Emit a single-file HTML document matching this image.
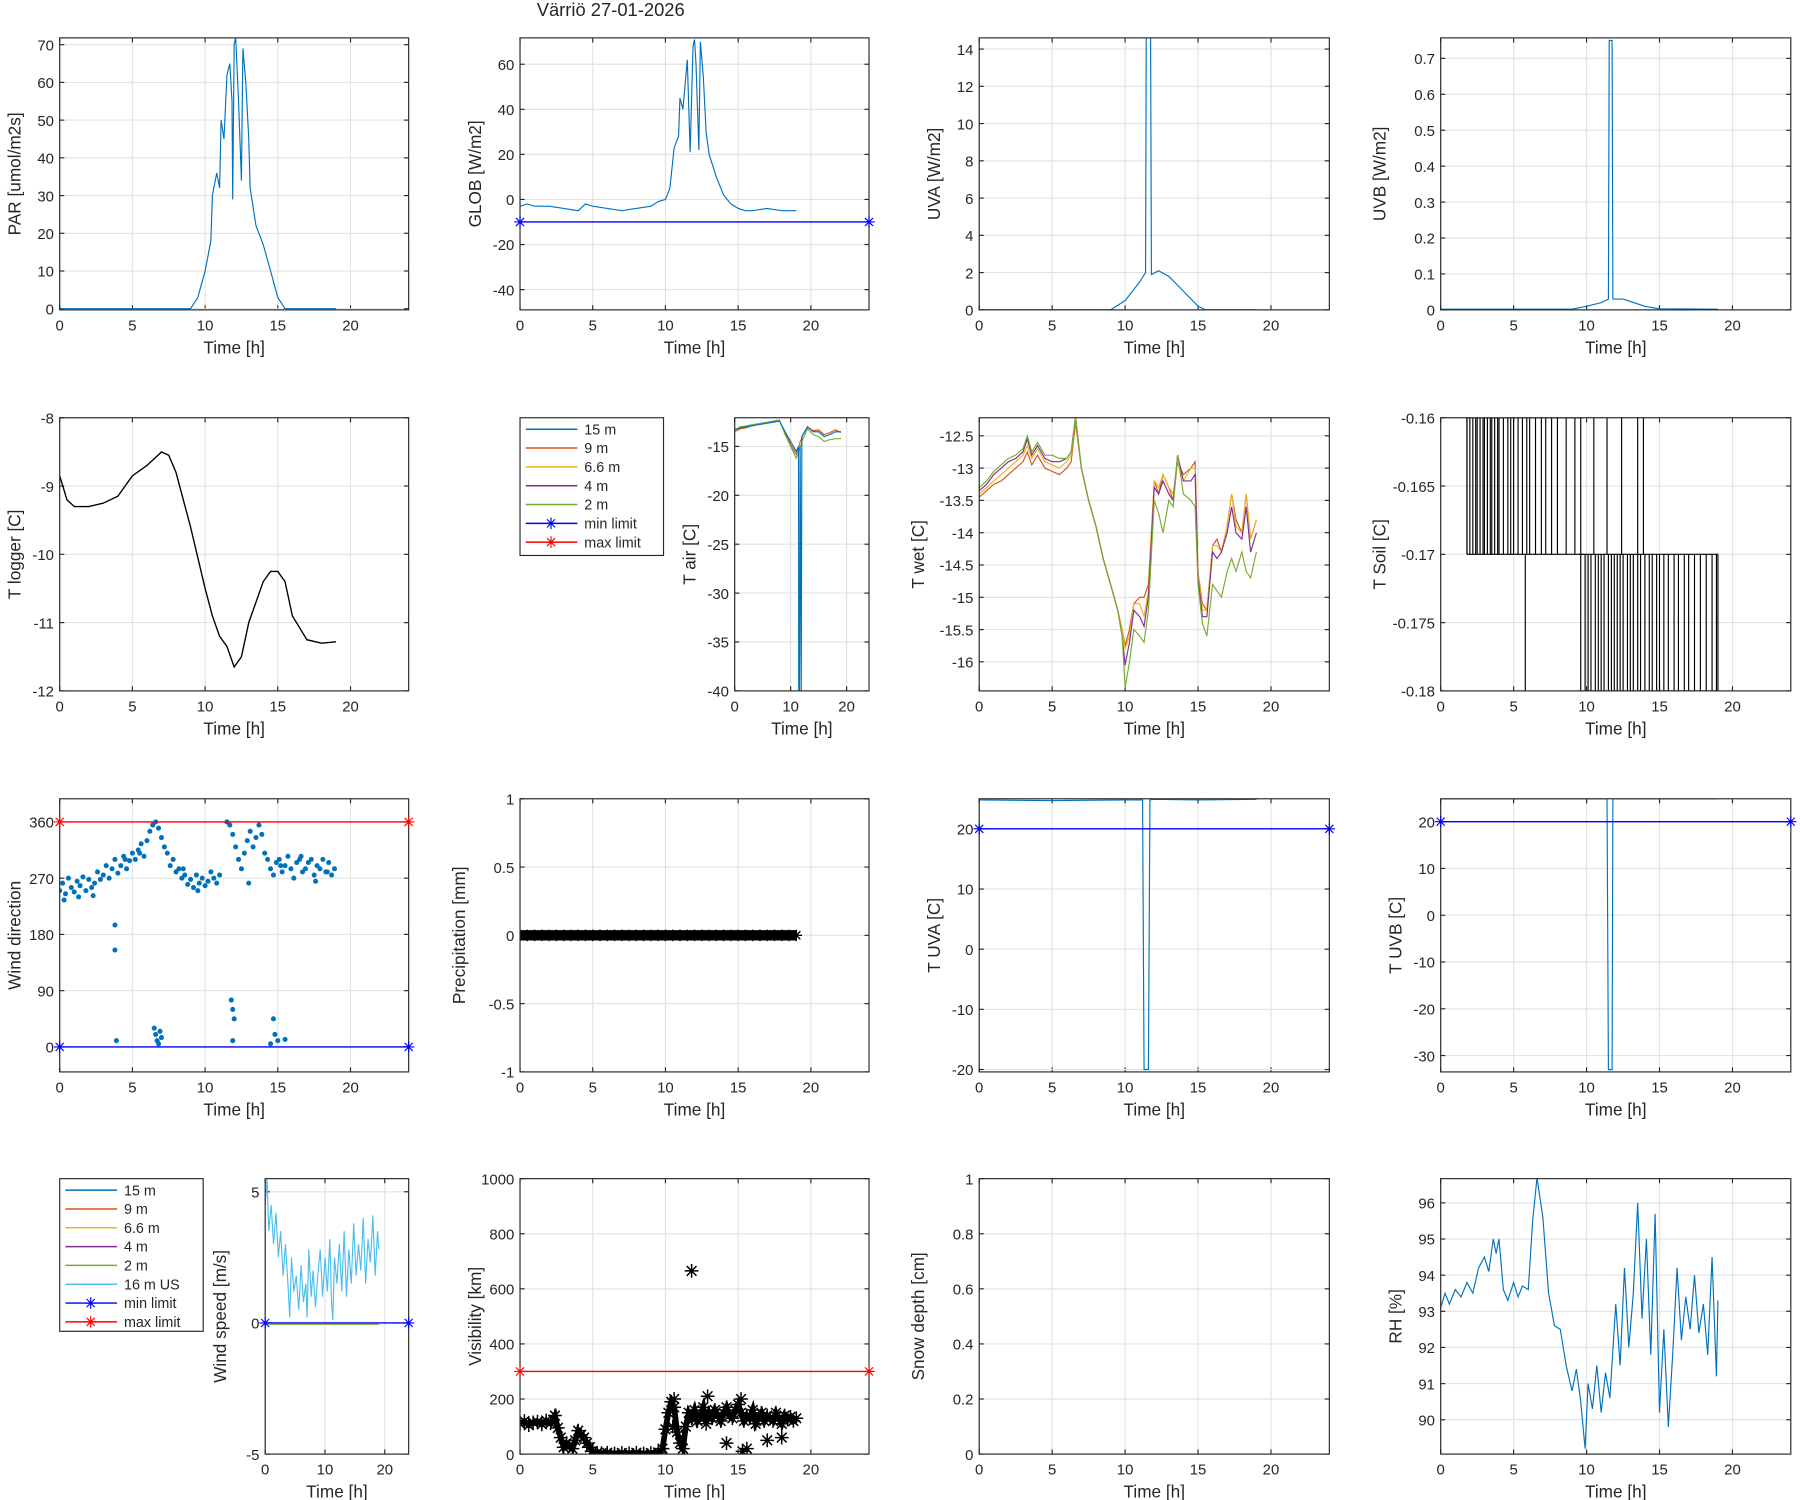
<!DOCTYPE html>
<html><head><meta charset="utf-8"><style>
html,body{margin:0;padding:0;background:#fff}
svg{display:block}
text{font-family:"Liberation Sans",sans-serif;fill:#262626}
</style></head><body>
<svg id="fig" width="1800" height="1500" viewBox="0 0 1568 1307" preserveAspectRatio="none" xmlns="http://www.w3.org/2000/svg">
<rect width="1568" height="1307" fill="#fff"/>
<text x="532" y="14" font-size="16" text-anchor="middle">Värriö 27-01-2026</text>
</svg>
<script>
// ---------- DATA ----------
const parT=[0,9,9.5,10,10.4,10.5,10.8,11,11.1,11.3,11.5,11.7,11.85,11.9,12,12.1,12.3,12.5,12.6,12.8,13,13.1,13.5,14,14.5,15,15.5,19];
const parV=[0,0,3,10,18,30,36,32,50,45,62,65,55,29,70,72,55,34,69,60,45,32,22,17,10,3,0,0];
const globT=[0,0.5,1,2,3,4,4.5,5,6,7,8,9,9.5,10,10.3,10.6,10.9,11,11.2,11.5,11.7,11.9,12,12.1,12.3,12.4,12.6,12.8,13,13.5,14,14.5,15,15.5,16,17,18,19];
const globV=[-3,-2,-3,-3,-4,-5,-2,-3,-4,-5,-4,-3,-1,0,5,23,28,45,40,62,21,68,71,60,22,70,55,30,20,10,2,-2,-4,-5,-5,-4,-5,-5];
const uvaT=[0,9,10,11,11.4,11.45,11.75,11.8,12.3,13,14,15,15.5,19];
const uvaV=[0,0,0.5,1.5,2,14.6,14.6,1.9,2.1,1.8,1,0.2,0,0];
const uvbT=[0,9,10,11,11.5,11.55,11.75,11.8,12.5,14,15,19];
const uvbV=[0.002,0.002,0.01,0.02,0.03,0.75,0.75,0.03,0.03,0.01,0.003,0.002];
const tlogT=[0,0.5,1,2,3,4,4.5,5,6,7,7.5,8,9,10,10.5,11,11.5,12,12.5,13,14,14.5,15,15.5,16,17,18,19];
const tlogV=[-8.85,-9.2,-9.3,-9.3,-9.25,-9.15,-9.0,-8.85,-8.7,-8.5,-8.55,-8.8,-9.6,-10.5,-10.9,-11.2,-11.35,-11.65,-11.5,-11.0,-10.4,-10.25,-10.25,-10.4,-10.9,-11.25,-11.3,-11.28];
const tairT=[0,1,2,3,4,5,6,7,8,9,10,11,11.4,11.45,11.6,11.7,11.9,12,13,14,15,16,17,18,19];
const tair15=[-13.3,-13.1,-13,-12.9,-12.8,-12.7,-12.6,-12.5,-12.4,-13.5,-14.5,-15.5,-15,-40,-40,-15,-40,-14,-13,-13.5,-13.5,-14,-13.8,-13.5,-13.5];
const tair9=[-13.5,-13.2,-13.1,-12.9,-12.8,-12.7,-12.6,-12.5,-12.4,-13.6,-14.8,-15.8,-15.2,-15,-14.8,-14.5,-14.3,-14,-13,-13.4,-13.3,-13.8,-13.6,-13.3,-13.6];
const tairG=[-13.3,-13.0,-12.9,-12.8,-12.7,-12.6,-12.5,-12.4,-12.3,-13.8,-15,-16.2,-15.6,-15.4,-15.2,-15,-14.8,-14.5,-13.2,-13.8,-14,-14.5,-14.3,-14.2,-14.2];
const twetT=[0,0.5,1,1.5,2,2.5,3,3.3,3.6,4,4.5,5,5.5,6,6.3,6.6,7,7.5,8,8.5,9,9.5,9.8,10,10.3,10.6,11,11.3,11.6,12,12.3,12.6,13,13.3,13.6,14,14.5,14.8,15,15.3,15.6,16,16.3,16.6,17,17.3,17.6,18,18.3,18.6,19];
const twetR=[-13.45,-13.35,-13.25,-13.2,-13.1,-13.0,-12.9,-12.75,-12.95,-12.8,-13.0,-13.05,-13.1,-13.0,-12.9,-12.3,-13.0,-13.5,-13.9,-14.4,-14.8,-15.2,-15.5,-15.75,-15.5,-15.1,-15.0,-15.0,-14.8,-13.2,-13.4,-13.1,-13.3,-13.5,-12.9,-13.1,-13.0,-12.9,-14.6,-15.1,-15.2,-14.2,-14.1,-14.3,-13.9,-13.4,-13.8,-14.0,-13.4,-14.1,-13.8];
const twetO=[-13.4,-13.3,-13.2,-13.1,-13.0,-12.9,-12.8,-12.65,-12.85,-12.7,-12.9,-12.95,-13.0,-12.9,-12.8,-12.25,-13.0,-13.5,-13.9,-14.4,-14.8,-15.2,-15.5,-15.8,-15.6,-15.1,-15.1,-15.3,-14.9,-13.2,-13.3,-13.1,-13.3,-13.4,-12.9,-13.2,-13.0,-13.0,-14.6,-15.2,-15.2,-14.2,-14.2,-14.3,-13.9,-13.4,-13.9,-14.0,-13.4,-14.1,-13.8];
const twetP=[-13.35,-13.25,-13.1,-13.0,-12.9,-12.85,-12.75,-12.55,-12.8,-12.65,-12.85,-12.9,-12.9,-12.85,-12.75,-12.2,-13.0,-13.5,-13.9,-14.4,-14.8,-15.2,-15.6,-16.05,-15.7,-15.2,-15.3,-15.45,-15.0,-13.3,-13.4,-13.2,-13.4,-13.5,-12.8,-13.2,-13.2,-13.1,-14.7,-15.3,-15.3,-14.3,-14.4,-14.3,-14.0,-13.6,-14.0,-14.1,-13.6,-14.3,-14.0];
const twetG=[-13.3,-13.2,-13.05,-12.95,-12.85,-12.8,-12.7,-12.5,-12.75,-12.6,-12.8,-12.8,-12.85,-12.85,-12.75,-12.2,-13.0,-13.5,-13.9,-14.4,-14.8,-15.2,-15.6,-16.4,-16.0,-15.5,-15.6,-15.7,-15.2,-13.5,-13.7,-14.0,-13.5,-13.6,-12.8,-13.4,-13.5,-13.6,-14.8,-15.4,-15.6,-14.8,-14.9,-15.0,-14.6,-14.4,-14.6,-14.3,-14.6,-14.7,-14.3];
const soilUpT=[1.8,2.0,2.2,2.4,2.5,2.7,2.9,3.0,3.2,3.4,3.5,3.7,3.9,4.0,4.3,4.6,4.8,5.0,5.3,5.6,5.9,6.1,6.5,6.9,7.2,7.6,8.0,8.6,9.2,9.6,10.5,11.4,12.4,13.5,13.9];
const soilDnT=[5.8,9.6,9.9,10.1,10.3,10.6,10.8,11.0,11.2,11.5,11.7,11.9,12.1,12.3,12.5,12.8,13.0,13.2,13.5,13.7,14.0,14.3,14.5,14.8,15.0,15.3,15.6,16.0,16.3,16.7,17.0,17.4,17.8,18.2,18.6,18.9];
const wdT=[0,0.2,0.4,0.6,0.8,1,1.2,1.4,1.6,1.8,2,2.2,2.4,2.6,2.8,3,3.2,3.4,3.6,3.8,4,4.2,4.4,4.6,4.8,5,5.2,5.4,5.6,5.8,6,6.2,6.4,6.6,6.8,7,7.2,7.4,7.6,7.8,8,8.2,8.4,8.6,8.8,9,9.2,9.4,9.6,9.8,10,10.2,10.4,10.6,10.8,11,11.5,11.7,11.9,12.1,12.3,12.5,12.7,12.9,13.1,13.3,13.5,13.7,13.9,14.1,14.3,14.5,14.7,14.9,15.1,15.3,15.5,15.7,15.9,16.1,16.3,16.5,16.7,16.9,17.1,17.3,17.5,17.7,17.9,18.1,18.3,18.5,18.7,18.9,3.8,3.8,3.9,6.5,6.6,6.7,6.8,6.9,7,11.8,11.9,12,11.9,14.5,14.7,15,14.8,15.5,0.3,1.3,2.3,4.5,5.5,8.5,9.5,13,15.2,16.6,17.6,18.4];
const wdV=[250,262,245,270,255,248,265,258,272,250,268,255,262,280,268,275,290,270,285,300,278,290,305,285,298,310,300,315,325,305,330,345,355,360,350,335,320,310,290,300,280,285,270,275,260,268,255,275,262,270,258,265,280,270,262,275,360,355,340,320,300,285,310,330,345,320,335,355,340,310,300,285,275,295,300,280,290,305,285,270,295,300,280,285,295,300,275,290,285,300,280,295,275,285,195,155,10,30,20,10,5,25,15,75,60,45,10,5,45,10,20,12,235,240,242,300,310,285,250,262,290,305,265,280];
const prT=[0,0.5,1,1.5,2,2.5,3,3.5,4,4.5,5,5.5,6,6.5,7,7.5,8,8.5,9,9.5,10,10.5,11,11.5,12,12.5,13,13.5,14,14.5,15,15.5,16,16.5,17,17.5,18,18.5,19];
const prV=[0,0,0,0,0,0,0,0,0,0,0,0,0,0,0,0,0,0,0,0,0,0,0,0,0,0,0,0,0,0,0,0,0,0,0,0,0,0,0];
const tuvaT=[0,5,10,11.2,11.3,11.6,11.7,12,15,19];
const tuvaV=[24.8,24.7,24.8,24.8,-20,-20,24.8,24.9,24.8,24.9];
const tuvbT=[0,5,10,11.4,11.5,11.75,11.8,12,15,19];
const tuvbV=[24.9,24.9,24.9,24.9,-33,-33,24.9,24.9,24.9,24.9];
const wsT=[0,0.3,0.6,1,1.4,1.8,2.2,2.6,3,3.4,3.8,4.1,4.4,4.8,5.2,5.6,6,6.4,6.8,7,7.3,7.7,8,8.4,8.8,9.2,9.6,10,10.4,10.8,11.1,11.3,11.6,12,12.4,12.8,13.2,13.6,14,14.4,14.8,15.2,15.6,16,16.4,16.8,17.2,17.6,18,18.4,18.8,19];
const wsV=[4.5,5.5,3.5,4.5,3,4.2,2.5,3.5,1.8,3,1.5,0.2,2.5,1.2,1.8,0.5,2.2,0.8,1.5,0.2,2.8,1,2,0.6,1.8,2.8,1,2.5,1.2,3.2,0.8,0.1,2.5,1.5,3,1.2,3.5,1,2.8,1.5,3.8,1.8,3,2,4,1.5,3.2,2.3,4.1,1.8,3.5,2.8];
const visT=[0,0.3,0.6,0.9,1.2,1.5,1.8,2.1,2.4,2.6,2.8,3,3.2,3.4,3.6,3.8,4,4.2,4.4,4.6,4.8,5,5.3,5.6,6,6.5,7,7.5,8,8.5,9,9.5,9.8,10,10.2,10.4,10.6,10.8,11,11.2,11.4,11.6,11.8,12,12.2,12.4,12.6,12.8,13,13.2,13.4,13.6,13.8,14,14.2,14.4,14.6,14.8,15,15.2,15.4,15.6,15.8,16,16.2,16.4,16.6,16.8,17,17.2,17.4,17.6,17.8,18,18.2,18.4,18.6,18.8,19,11.8,14.2,15.3,15.6,17,18,12.9,15.2,10.5,10.6];
const visV=[110,120,105,115,118,108,122,112,140,95,60,25,40,30,20,50,85,70,60,40,25,10,5,3,5,2,4,3,5,2,4,6,20,90,150,190,170,80,40,20,100,150,130,160,120,140,170,110,150,130,160,140,120,150,170,140,130,160,180,150,120,140,130,160,110,130,150,120,140,130,120,150,130,110,140,125,135,120,130,665,40,10,20,50,60,210,200,100,200];
const rhT=[0,0.3,0.6,1,1.4,1.8,2.2,2.6,3,3.3,3.6,3.8,4,4.3,4.6,5,5.3,5.6,6,6.3,6.6,7,7.4,7.8,8.2,8.6,9,9.3,9.6,9.9,10.1,10.4,10.7,11,11.3,11.6,12,12.3,12.6,12.9,13.2,13.5,13.8,14.1,14.4,14.7,15,15.3,15.6,15.9,16.2,16.5,16.8,17.1,17.4,17.7,18,18.3,18.6,18.9,19];
const rhV=[93.1,93.5,93.2,93.6,93.4,93.8,93.5,94.2,94.5,94.1,95,94.6,95,93.6,93.3,93.8,93.4,93.7,93.6,95.5,96.7,95.6,93.5,92.6,92.5,91.5,90.8,91.4,90.5,89.2,91,90.3,91.5,90.2,91.3,90.6,93.2,91.5,94.2,92,93.5,96,92.8,95,91.8,95.7,90.2,92.5,89.8,91.8,94.2,92.2,93.4,92.5,94,92.4,93.2,91.8,94.5,91.2,93.3];

// ---------- HELPERS ----------
const NS="http://www.w3.org/2000/svg";
const svg=document.getElementById('fig');
function mk(tag,attrs,parent){const e=document.createElementNS(NS,tag);for(const k in attrs)e.setAttribute(k,attrs[k]);(parent||svg).appendChild(e);return e;}
function panel(name,x0,x1,y0,y1,xmin,xmax,ymin,ymax,xticks,yticks,ylabel,ytf){
  const g=mk('g',{});
  
  
  const sx=v=>x0+(v-xmin)/(xmax-xmin)*(x1-x0);
  const sy=v=>y1-(v-ymin)/(ymax-ymin)*(y1-y0);
  mk('rect',{x:x0,y:y0,width:x1-x0,height:y1-y0,fill:'#fff'},g);
  xticks.forEach(t=>{const X=sx(t);mk('line',{x1:X,x2:X,y1:y0,y2:y1,stroke:'#e3e3e3','stroke-width':1},g);
    mk('line',{x1:X,x2:X,y1:y1,y2:y1-4,stroke:'#262626'},g);mk('line',{x1:X,x2:X,y1:y0,y2:y0+4,stroke:'#262626'},g);
    const tx=mk('text',{x:X,y:y1+18,'font-size':13,'text-anchor':'middle'},g);tx.textContent=t;
    
    });
  yticks.forEach(t=>{const Y=sy(t);mk('line',{x1:x0,x2:x1,y1:Y,y2:Y,stroke:'#e3e3e3','stroke-width':1},g);
    mk('line',{x1:x0,x2:x0+4,y1:Y,y2:Y,stroke:'#262626'},g);mk('line',{x1:x1,x2:x1-4,y1:Y,y2:Y,stroke:'#262626'},g);
    const tx=mk('text',{x:x0-5,y:Y+5,'font-size':13,'text-anchor':'end'},g);tx.textContent=ytf?ytf(t):t;
    
    });
  const xl=mk('text',{x:(x0+x1)/2,y:y1+38,'font-size':15,'text-anchor':'middle'},g);xl.textContent='Time [h]';
  
  
  const yl=mk('text',{x:0,y:0,'font-size':15,'text-anchor':'middle',transform:`translate(${x0-(ytf?48:34)},${(y0+y1)/2}) rotate(-90)`},g);yl.textContent=ylabel;
  
  
  const cid='c'+name;const cp=mk('clipPath',{id:cid},g);mk('rect',{x:x0,y:y0,width:x1-x0,height:y1-y0},cp);
  const plot=mk('g',{'clip-path':`url(#${cid})`},g);
  const frame=mk('rect',{x:x0,y:y0,width:x1-x0,height:y1-y0,fill:'none',stroke:'#262626','stroke-width':1},g);
  return {sx,sy,plot,g};
}
function line(ax,xs,ys,color,w,name){const d=xs.map((x,i)=>(i?'L':'M')+ax.sx(x).toFixed(1)+','+ax.sy(ys[i]).toFixed(1)).join('');
  const p=mk('path',{d,fill:'none',stroke:color,'stroke-width':w||1},ax.plot);
  
  return p;}
function star(parent,x,y,r,color,w){const s=[];for(let a=0;a<4;a++){const an=a*Math.PI/4;s.push(`M${x-r*Math.cos(an)},${y-r*Math.sin(an)}L${x+r*Math.cos(an)},${y+r*Math.sin(an)}`);}
  return mk('path',{d:s.join(''),stroke:color,'stroke-width':w||1,fill:'none'},parent);}
function limit(ax,v,xa,xb,color,name){line(ax,[xa,xb],[v,v],color,1.2,name);
  const s1=star(ax.g,ax.sx(xa),ax.sy(v),5,color);
  const s2=star(ax.g,ax.sx(xb),ax.sy(v),5,color);}
function legend(x,y,w,h,items,name){const g=mk('g',{});
  
  
  mk('rect',{x,y,width:w,height:h,fill:'#fff',stroke:'#262626'},g);
  items.forEach((it,i)=>{const Y=y+10+i*16.4;mk('line',{x1:x+5,x2:x+50,y1:Y,y2:Y,stroke:it[1],'stroke-width':1.3},g);
    if(it[2])star(g,x+27,Y,5,it[1]);
    const t=mk('text',{x:x+56,y:Y+4.5,'font-size':12.5},g);t.textContent=it[0];
    
    });}
const C1='#0072BD',CR='#D95319',CY='#EDB120',CP='#7E2F8E',CG='#77AC30',CC='#4DBEEE',T5=[0,5,10,15,20];

// Row 1
let a=panel('par',52,356,33,270,0,24,-0.3,71.8,T5,[0,10,20,30,40,50,60,70],'PAR [umol/m2s]');
line(a,parT,parV,C1,1,'par-line');
a=panel('glob',453,757,33,270,0,24,-49,71.7,T5,[-40,-20,0,20,40,60],'GLOB [W/m2]');
line(a,globT,globV,C1,1,'glob-line');limit(a,-10,0,24,'#0000FF','glob-min-limit');
a=panel('uva',853,1158,33,270,0,24,0,14.6,T5,[0,2,4,6,8,10,12,14],'UVA [W/m2]');
line(a,uvaT,uvaV,C1,1,'uva-line');
a=panel('uvb',1255,1560,33,270,0,24,0,0.757,T5,[0,0.1,0.2,0.3,0.4,0.5,0.6,0.7],'UVB [W/m2]',t=>t);
line(a,uvbT,uvbV,C1,1,'uvb-line');
// Row 2
a=panel('tlogger',52,356,364,602,0,24,-12,-8,T5,[-12,-11,-10,-9,-8],'T logger [C]');
line(a,tlogT,tlogV,'#000',1.2,'tlogger-line');
legend(453,364,125,120,[['15 m',C1],['9 m',CR],['6.6 m',CY],['4 m',CP],['2 m',CG],['min limit','#0000FF',1],['max limit','#FF0000',1]],'tair-legend');
a=panel('tair',640,757,364,602,0,24,-40,-12.07,[0,10,20],[-40,-35,-30,-25,-20,-15],'T air [C]');
line(a,tairT,tair9,CR,1,'tair-9m-line');line(a,tairT,tairG,CG,1,'tair-2m-line');line(a,tairT,tair15,C1,1,'tair-15m-line');
a=panel('twet',853,1158,364,602,0,24,-16.45,-12.22,T5,[-16,-15.5,-15,-14.5,-14,-13.5,-13,-12.5],'T wet [C]',t=>t);
line(a,twetT,twetR,CR,1,'twet-9m-line');line(a,twetT,twetO,CY,1,'twet-6m-line');line(a,twetT,twetP,CP,1,'twet-4m-line');line(a,twetT,twetG,CG,1,'twet-2m-line');
a=panel('tsoil',1255,1560,364,602,0,24,-0.18,-0.16,T5,[-0.18,-0.175,-0.17,-0.165,-0.16],'T Soil [C]',t=>t);
line(a,[1.8,9.8],[-0.17,-0.17],'#000',1,'tsoil-base');line(a,[9.5,19],[-0.17,-0.17],'#000',1,'tsoil-base2');
soilUpT.forEach(t=>{const p=line(a,[t,t],[-0.17,-0.16],'#000',1,'tsoil-spike');});
soilDnT.forEach(t=>{const p=line(a,[t,t],[-0.17,-0.18],'#000',1,'tsoil-spike');});
line(a,[1.8,1.8,9.8],[-0.17,-0.16,-0.16],'#000',1,'tsoil-top');line(a,[9.5,19,19],[-0.18,-0.18,-0.17],'#000',1,'tsoil-bottom');
// Row 3
a=panel('wdir',52,356,696,934,0,24,-40,397,T5,[0,90,180,270,360],'Wind direction');
wdT.forEach((t,i)=>{const c=mk('circle',{cx:a.sx(t),cy:a.sy(wdV[i]),r:2.2,fill:C1},a.plot);
  
  });
limit(a,360,0,24,'#FF0000','wdir-max-limit');limit(a,0,0,24,'#0000FF','wdir-min-limit');
a=panel('precip',453,757,696,934,0,24,-1,1,T5,[-1,-0.5,0,0.5,1],'Precipitation [mm]',t=>t);
line(a,prT,prV,'#000',9,'precip-band');
prT.forEach((t,i)=>{const s=star(a.plot,a.sx(t),a.sy(prV[i]),5,'#000',1.2);});
a=panel('tuva',853,1158,696,934,0,24,-20.4,25,T5,[-20,-10,0,10,20],'T UVA [C]');
line(a,tuvaT,tuvaV,C1,1,'tuva-line');limit(a,20,0,24,'#0000FF','tuva-min-limit');
a=panel('tuvb',1255,1560,696,934,0,24,-33.5,24.9,T5,[-30,-20,-10,0,10,20],'T UVB [C]');
line(a,tuvbT,tuvbV,C1,1,'tuvb-line');limit(a,20,0,24,'#0000FF','tuvb-min-limit');
// Row 4
legend(52,1027,125,133,[['15 m',C1],['9 m',CR],['6.6 m',CY],['4 m',CP],['2 m',CG],['16 m US',CC],['min limit','#0000FF',1],['max limit','#FF0000',1]],'wind-legend');
a=panel('wspeed',231,356,1027,1267,0,24,-5,5.5,[0,10,20],[-5,0,5],'Wind speed [m/s]');
line(a,[0,19],[-0.05,-0.05],CG,1,'wspeed-2m-line');
line(a,wsT,wsV,CC,1,'wspeed-16m-line');limit(a,0,0,24,'#0000FF','wspeed-min-limit');
a=panel('vis',453,757,1027,1267,0,24,0,1000,T5,[0,200,400,600,800,1000],'Visibility [km]');
visT.forEach((t,i)=>{const s=star(a.plot,a.sx(t),a.sy(visV[i]),6,'#000',1.3);});
line(a,visT.slice(0,79),visV.slice(0,79),'#000',5,'visibility-trace');
limit(a,300,0,24,'#FF0000','vis-max-limit');
a=panel('snow',853,1158,1027,1267,0,24,0,1,T5,[0,0.2,0.4,0.6,0.8,1],'Snow depth [cm]',t=>t);
a=panel('rh',1255,1560,1027,1267,0,24,89.05,96.67,T5,[90,91,92,93,94,95,96],'RH [%]');
line(a,rhT,rhV,C1,1,'rh-line');
</script>
</body></html>
